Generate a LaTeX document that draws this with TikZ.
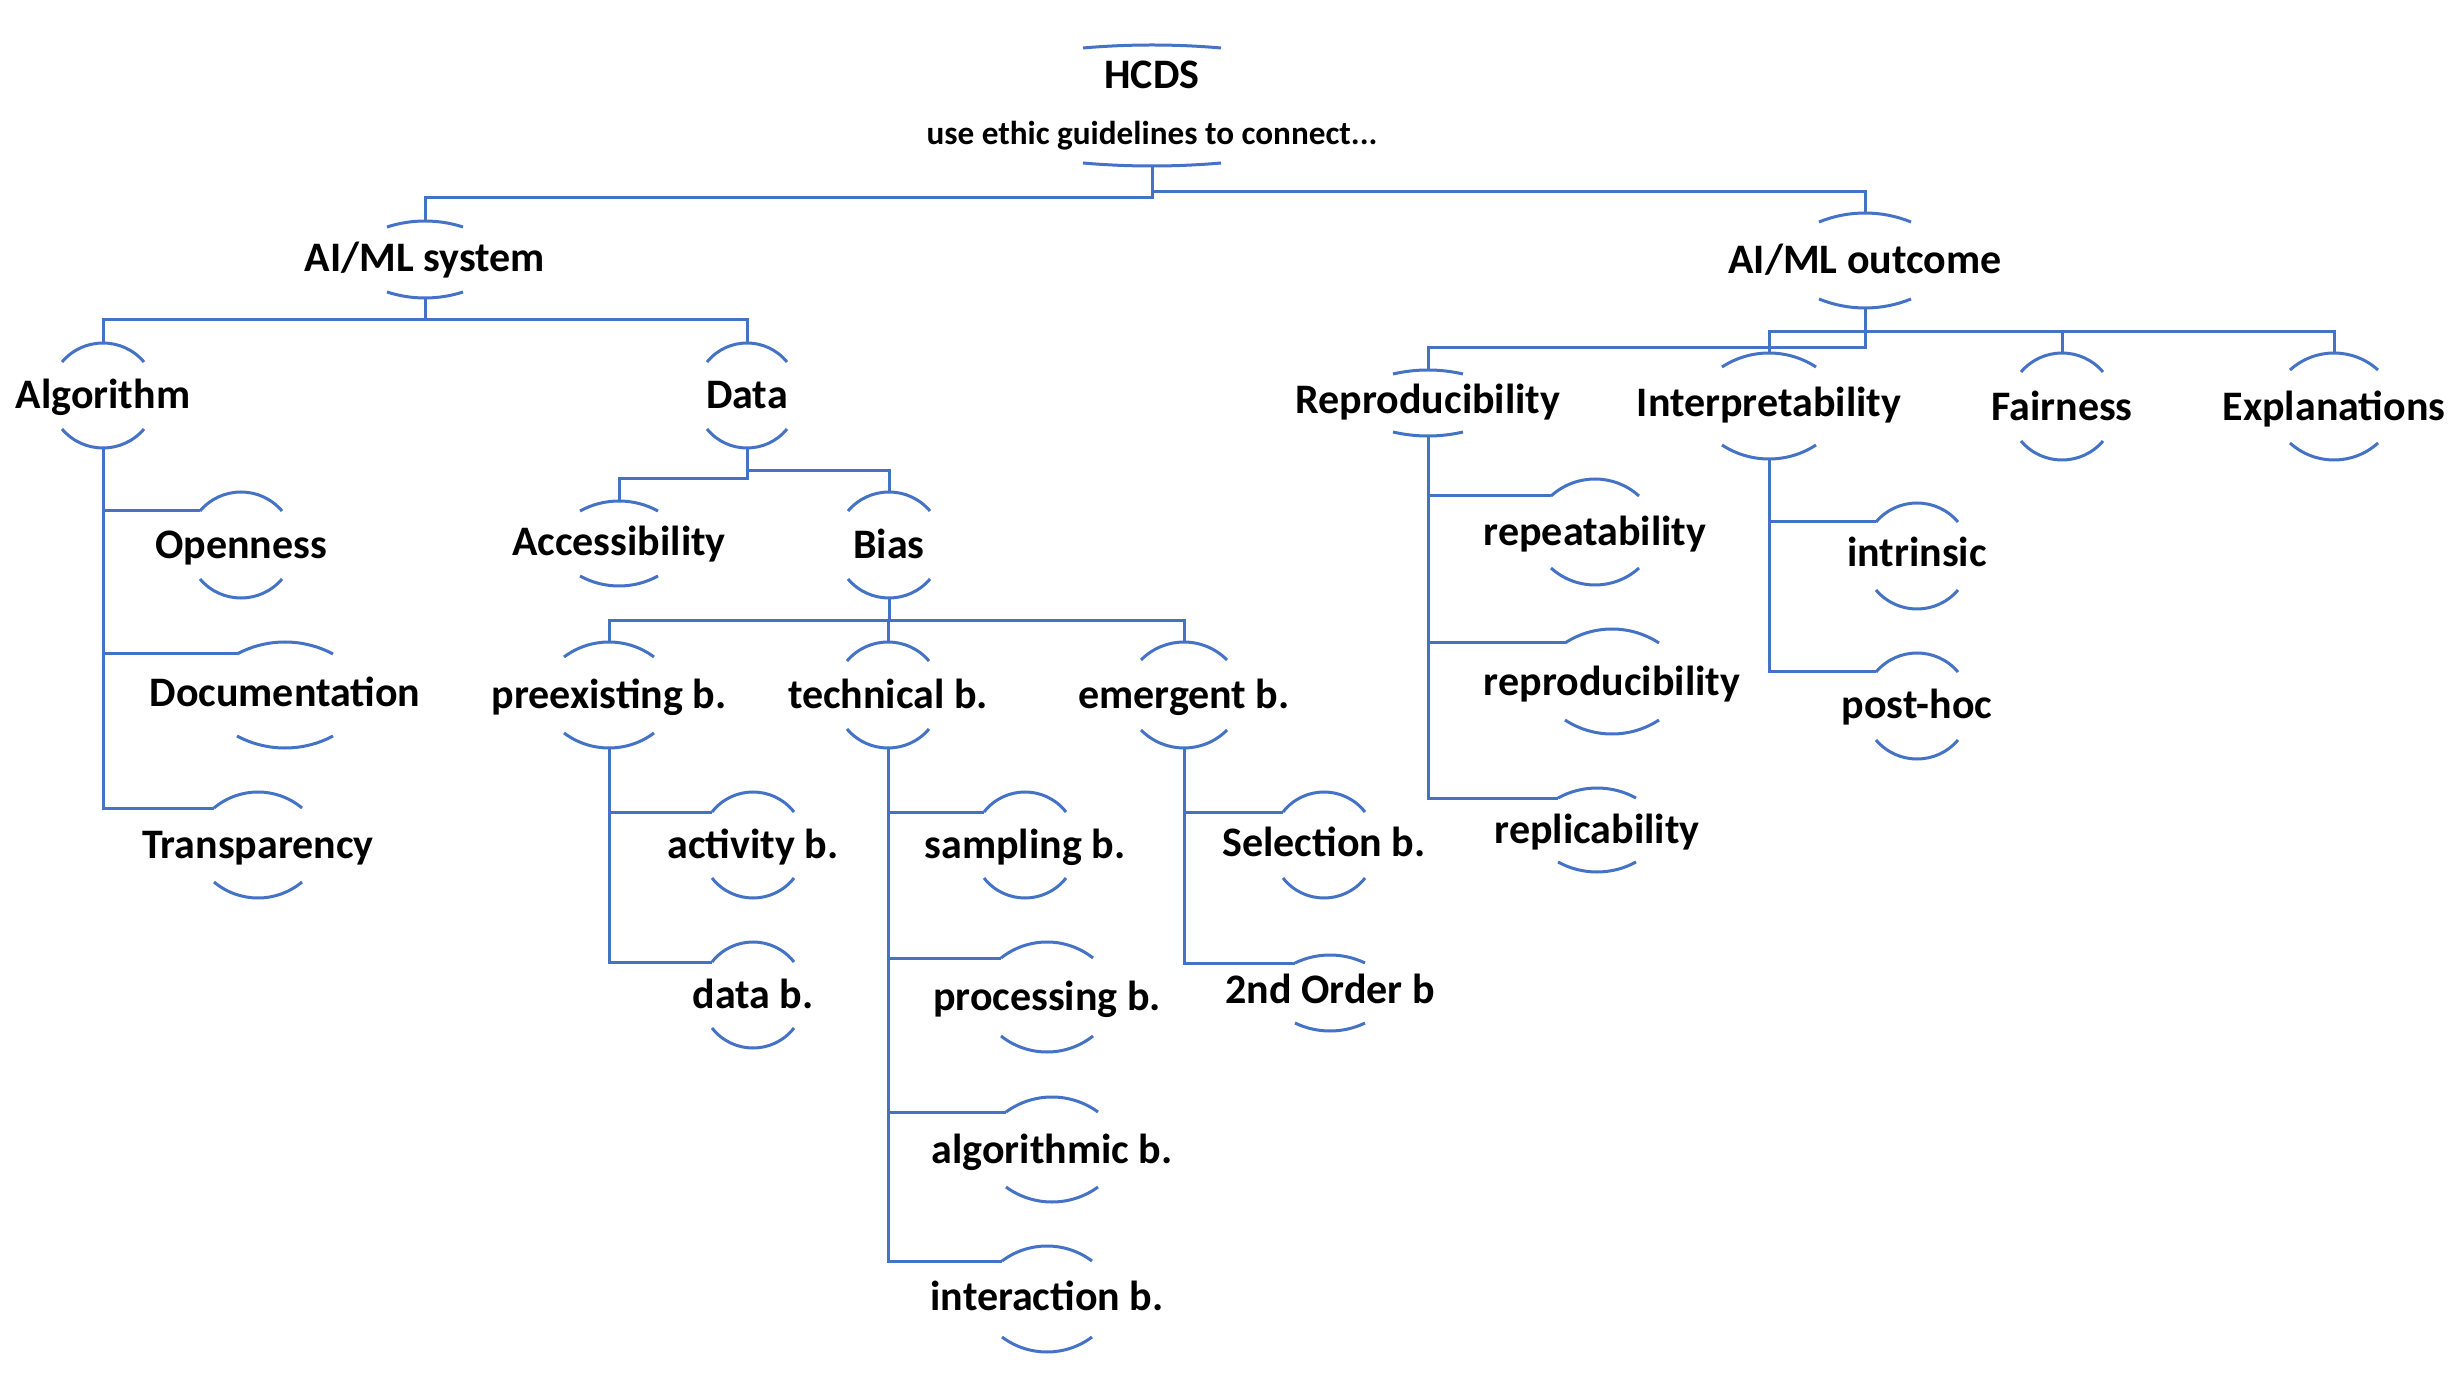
\documentclass[tikz,border=0pt]{standalone}
\usepackage{fontspec}
\setmainfont{Carlito}
\usetikzlibrary{calc}

\begin{document}
\begin{tikzpicture}[x=0.25pt, y=-0.25pt]


\def\lineWidth{0.75}
\def\textsize{10.5}
\definecolor{lineblue}{RGB}{68,114,196}
\tikzset{
  tie/.style={draw=lineblue, line width=\lineWidth pt},
  lbl/.style={inner sep=0pt, text height=6.75pt, text depth=0pt, font=\bfseries\fontsize{\textsize}{12}\selectfont},
}
% arcs above and below a label: name, half width, top, bottom, sagitta
\def\capsarc#1#2#3#4#5{%
  \pgfmathsetmacro\cx{#2/3+2*#5*#5/(3*#2)}
  \coordinate (#1-t) at ($(#1)+(0,-#3)$);
  \coordinate (#1-b) at ($(#1)+(0,#4)$);
  \coordinate (#1-l) at ($(#1)+(-#2,-#3+#5)$);
  \draw[tie] (#1-l) .. controls ($(#1)+(-\cx,-#3-#5/3)$) and ($(#1)+(\cx,-#3-#5/3)$) .. ($(#1)+(#2,-#3+#5)$);
  \draw[tie] ($(#1)+(-#2,#4-#5)$) .. controls ($(#1)+(-\cx,#4+#5/3)$) and ($(#1)+(\cx,#4+#5/3)$) .. ($(#1)+(#2,#4-#5)$);
}

\useasboundingbox (0,0) rectangle (2464,1390);

\coordinate (frame) at (1152,106);
\node[lbl] (hcds) at (1152,75) {HCDS};
\node[lbl, font=\bfseries\fontsize{8.3}{10}\selectfont, text height=5.3pt] (guide) at (1152,134) {use ethic guidelines to connect...};
\capsarc{frame}{69}{61}{60}{3}

\node[lbl] (sys) at (425,258) {AI/ML system}; \capsarc{sys}{38}{37}{40}{6}
\node[lbl] (out) at (1865,260) {AI/ML outcome}; \capsarc{out}{46}{47}{48}{9}

\node[lbl] (alg) at (103,395) {Algorithm}; \capsarc{alg}{41}{52}{53}{19}
\node[lbl] (data) at (747,395) {Data}; \capsarc{data}{40}{52}{53}{19}
\node[lbl] (open) at (241,545) {Openness}; \capsarc{open}{41}{53}{53}{19}
\node[lbl] (doc) at (285,693) {Documentation}; \capsarc{doc}{48}{51}{55}{12}
\node[lbl] (trans) at (258,845) {Transparency}; \capsarc{trans}{44}{53}{53}{16}

\node[lbl] (acc) at (619,542) {Accessibility}; \capsarc{acc}{39}{41}{44}{10}
\node[lbl] (bias) at (889,545) {Bias}; \capsarc{bias}{41}{53}{53}{19}
\node[lbl] (pre) at (609,695) {preexisting b.}; \capsarc{pre}{45}{53}{53}{15}
\node[lbl] (tech) at (888,695) {technical b.}; \capsarc{tech}{41}{53}{53}{19}
\node[lbl] (emer) at (1184,695) {emergent b.}; \capsarc{emer}{43}{53}{53}{18}
\node[lbl] (act) at (753,845) {activity b.}; \capsarc{act}{41}{53}{53}{20}
\node[lbl] (datab) at (753,995) {data b.}; \capsarc{datab}{41}{53}{53}{20}
\node[lbl] (samp) at (1025,845) {sampling b.}; \capsarc{samp}{41}{53}{53}{20}
\node[lbl] (proc) at (1047,997) {processing b.}; \capsarc{proc}{46}{55}{55}{16}
\node[lbl] (algo) at (1052,1150) {algorithmic b.}; \capsarc{algo}{46}{53}{52}{15}
\node[lbl] (inter) at (1047,1297) {interaction b.}; \capsarc{inter}{45}{51}{55}{15}
\node[lbl] (sel) at (1324,843) {Selection b.}; \capsarc{sel}{41}{51}{55}{20}
\node[lbl] (second) at (1330,990) {2nd Order b}; \capsarc{second}{35}{35}{41}{8}

\node[lbl] (repro) at (1428,400) {Reproducibility}; \capsarc{repro}{35}{30}{36}{4}
\node[lbl] (interp) at (1769,403) {Interpretability}; \capsarc{interp}{47}{50}{56}{14}
\node[lbl] (fair) at (2062,407) {Fairness}; \capsarc{fair}{41}{54}{53}{19}
\node[lbl] (expl) at (2334,407) {Explanations}; \capsarc{expl}{44}{54}{53}{17}
\node[lbl] (repeat) at (1595,532) {repeatability}; \capsarc{repeat}{44}{53}{53}{17}
\node[lbl] (reprod) at (1612,682) {reproducibility}; \capsarc{reprod}{47}{53}{52}{14}
\node[lbl] (repli) at (1597,830) {replicability}; \capsarc{repli}{39}{42}{42}{10}
\node[lbl] (intr) at (1917,553) {intrinsic}; \capsarc{intr}{41}{50}{56}{19}
\node[lbl] (post) at (1917,705) {post-hoc}; \capsarc{post}{41}{52}{54}{19}


%DRAW

\draw[tie] (frame-b) -- ++(0,32) -| (sys-t);
\draw[tie] (frame-b) -- ++(0,26) -| (out-t);

\draw[tie] (sys-b) -- ++(0,22) -| (alg-t);
\draw[tie] (sys-b) -- ++(0,22) -| (data-t);
\draw[tie] (alg-b) |- (open-l);
\draw[tie] (alg-b) |- (doc-l);
\draw[tie] (alg-b) |- (trans-l);

\draw[tie] (data-b) -- ++(0,31) -| (acc-t);
\draw[tie] (data-b) -- ++(0,23) -| (bias-t);
\draw[tie] (bias-b) -- ++(0,23) -| (pre-t);
\draw[tie] (bias-b) -- ++(0,23) -| (tech-t);
\draw[tie] (bias-b) -- ++(0,23) -| (emer-t);
\draw[tie] (pre-b) |- (act-l);
\draw[tie] (pre-b) |- (datab-l);
\draw[tie] (tech-b) |- (samp-l);
\draw[tie] (tech-b) |- (proc-l);
\draw[tie] (tech-b) |- (algo-l);
\draw[tie] (tech-b) |- (inter-l);
\draw[tie] (emer-b) |- (sel-l);
\draw[tie] (emer-b) |- (second-l);

\draw[tie] (out-b) -- ++(0,40) -| (repro-t);
\draw[tie] (out-b) -- ++(0,24) -| (interp-t);
\draw[tie] (out-b) -- ++(0,24) -| (fair-t);
\draw[tie] (out-b) -- ++(0,24) -| (expl-t);
\draw[tie] (repro-b) |- (repeat-l);
\draw[tie] (repro-b) |- (reprod-l);
\draw[tie] (repro-b) |- (repli-l);
\draw[tie] (interp-b) |- (intr-l);
\draw[tie] (interp-b) |- (post-l);


\end{tikzpicture}
\end{document}
